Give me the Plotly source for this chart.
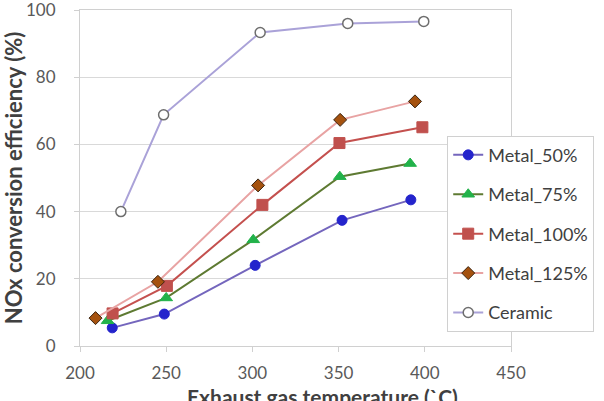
import plotly.graph_objects as go

# Data
series_names = ["Metal_50%", "Metal_75%", "Metal_100%", "Metal_125%", "Ceramic"]

metal50_x = [218.7, 248.9, 301.6, 352.0, 391.9]
metal50_y = [5.4, 9.5, 24.0, 37.4, 43.5]

metal75_x = [216.0, 250.0, 300.5, 350.7, 391.5]
metal75_y = [7.5, 14.3, 31.6, 50.4, 54.3]

metal100_x = [218.9, 250.4, 305.8, 350.5, 398.6]
metal100_y = [9.7, 17.9, 42.0, 60.4, 65.1]

metal125_x = [209.0, 245.2, 303.3, 350.9, 394.3]
metal125_y = [8.3, 19.1, 47.8, 67.3, 72.8]

ceramic_x = [223.7, 248.5, 304.5, 355.3, 399.4]
ceramic_y = [40.0, 68.8, 93.3, 96.0, 96.6]

x_ticks = [200, 250, 300, 350, 400, 450]
y_ticks = [0, 20, 40, 60, 80, 100]

x_title = "Exhaust gas temperature (`C)"
y_title = "NOx conversion efficiency (%)"

FONT = "Lato"

fig = go.Figure()

fig.add_trace(go.Scatter(
    x=metal50_x, y=metal50_y, name=series_names[0], mode="lines+markers",
    legendgroup="a",
    line=dict(color="#7466bd", width=2),
    marker=dict(symbol="circle", size=10, color="#2424cc", line=dict(color="#2424cc", width=1)),
))
fig.add_trace(go.Scatter(
    x=metal75_x, y=metal75_y, name=series_names[1], mode="lines+markers",
    legendgroup="b",
    line=dict(color="#5e7a32", width=2),
    marker=dict(symbol="triangle-up", size=11, color="#22b24a", line=dict(color="#22b24a", width=1)),
))
fig.add_trace(go.Scatter(
    x=metal100_x, y=metal100_y, name=series_names[2], mode="lines+markers",
    legendgroup="c",
    line=dict(color="#c4504e", width=2),
    marker=dict(symbol="square", size=11, color="#c0504d", line=dict(color="#c0504d", width=1)),
))
fig.add_trace(go.Scatter(
    x=metal125_x, y=metal125_y, name=series_names[3], mode="lines+markers",
    legendgroup="d",
    line=dict(color="#e8a3a3", width=2),
    marker=dict(symbol="diamond", size=10, color="#a5520f", line=dict(color="#3a2410", width=1)),
))
fig.add_trace(go.Scatter(
    x=ceramic_x, y=ceramic_y, name=series_names[4], mode="lines+markers",
    legendgroup="e",
    line=dict(color="#aaa2d8", width=2),
    marker=dict(symbol="circle", size=10, color="white", line=dict(color="#6e6e6e", width=1.5)),
))

axis_common = dict(
    showline=True, linecolor="#d0d0d0", linewidth=1, mirror=True,
    ticks="outside", ticklen=5, tickcolor="#d0d0d0",
    tickfont=dict(family=FONT, size=17, color="#595959"),
    zeroline=False, automargin=False, ticklabeloverflow="allow",
)

fig.update_layout(
    width=604, height=401,
    margin=dict(l=80, r=91, t=10, b=55),
    paper_bgcolor="white", plot_bgcolor="white",
    font=dict(family=FONT, color="#404040"),
    xaxis=dict(
        range=[200, 450], tickvals=x_ticks, showgrid=False,
        ticklabelstandoff=7,
        **axis_common,
    ),
    yaxis=dict(
        range=[0, 100], tickvals=y_ticks, showgrid=True, gridcolor="#d9d9d9", gridwidth=1,
        ticklabelstandoff=15,
        title=dict(text="<b>" + y_title + "</b>",
                   font=dict(family=FONT, size=22, color="#404040"), standoff=6),
        **axis_common,
    ),
    legend=dict(
        x=0.852, y=0.626, xanchor="left", yanchor="top",
        bgcolor="white", bordercolor="#d0d0d0", borderwidth=1,
        font=dict(family=FONT, size=18, color="#404040"),
        tracegroupgap=13, itemwidth=30,
    ),
    showlegend=True,
    annotations=[dict(
        text="<b>" + x_title + "</b>", xref="paper", yref="paper",
        x=0.5635, y=-0.108, xanchor="center", yanchor="top", showarrow=False,
        font=dict(family=FONT, size=21, color="#404040"),
    )],
)

fig.write_html("out.html")
